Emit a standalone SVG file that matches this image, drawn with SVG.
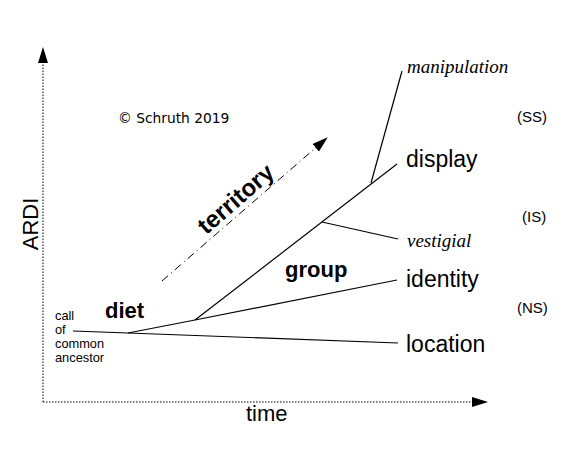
<svg xmlns="http://www.w3.org/2000/svg" width="585" height="450" viewBox="0 0 585 450">
<style>
.s{font-family:"Liberation Sans",Arial,sans-serif;fill:#000}
.d{font-family:"DejaVu Sans",sans-serif;fill:#000}
.i{font-family:"Liberation Serif","Times New Roman",serif;font-style:italic;fill:#000}
.b{font-weight:bold}
.ln{stroke:#000;stroke-width:1.2;fill:none}
.ax{stroke:#000;stroke-width:1;stroke-dasharray:1.5,1.5;fill:none}
</style>
<defs>
<marker id="ah2" markerWidth="16" markerHeight="10" refX="15" refY="5" orient="auto" markerUnits="userSpaceOnUse">
<path d="M0,0 L16,5 L0,10 Z" fill="#000"/>
</marker>
</defs>
<rect width="585" height="450" fill="#fff"/>
<g id="axes">
<line class="ax" x1="43" y1="402" x2="43" y2="48" marker-end="url(#ah2)"/>
<line class="ax" x1="43" y1="402" x2="487" y2="402" marker-end="url(#ah2)"/>
<text class="s" font-size="22" transform="translate(38,224) rotate(-90)" text-anchor="middle">ARDI</text>
<text class="s" font-size="22" x="246" y="421">time</text>
</g>
<g id="connectors">
<polyline class="ln" points="73,331 128,333 398,343"/>
<polyline class="ln" points="128,333 195,320 397,280"/>
<line class="ln" x1="195" y1="320" x2="397" y2="164"/>
<line class="ln" x1="322" y1="222" x2="398" y2="239"/>
<line class="ln" x1="371" y1="183" x2="402" y2="71"/>
<line stroke="#000" stroke-width="1" stroke-dasharray="8,4,1,4" x1="162" y1="281" x2="327" y2="138" marker-end="url(#ah2)"/>
</g>
<g id="ancestor">
<text class="s" font-size="12.8"><tspan x="55" y="320">call</tspan><tspan x="55" y="334">of</tspan><tspan x="55" y="348">common</tspan><tspan x="55" y="362">ancestor</tspan></text>
</g>
<g id="diet"><text class="s b" font-size="22" x="105" y="318">diet</text></g>
<g id="group"><text class="s b" font-size="22" x="285" y="277">group</text></g>
<g id="territory"><text class="s b" font-size="24" transform="translate(241,205) rotate(-41)" text-anchor="middle">territory</text></g>
<g id="copyright"><text class="d" font-size="13.8" x="118" y="123">© Schruth 2019</text></g>
<g id="manipulation"><text class="i" font-size="19" x="407" y="73">manipulation</text></g>
<g id="display"><text class="s" font-size="23" x="406" y="167">display</text></g>
<g id="vestigial"><text class="i" font-size="19" x="407" y="247">vestigial</text></g>
<g id="identity"><text class="s" font-size="23" x="406" y="287">identity</text></g>
<g id="location"><text class="s" font-size="23" x="406" y="352">location</text></g>
<g id="SS"><text class="s" font-size="15" x="517" y="122">(SS)</text></g>
<g id="IS"><text class="s" font-size="15" x="522" y="222">(IS)</text></g>
<g id="NS"><text class="s" font-size="15" x="517" y="313">(NS)</text></g>
</svg>
